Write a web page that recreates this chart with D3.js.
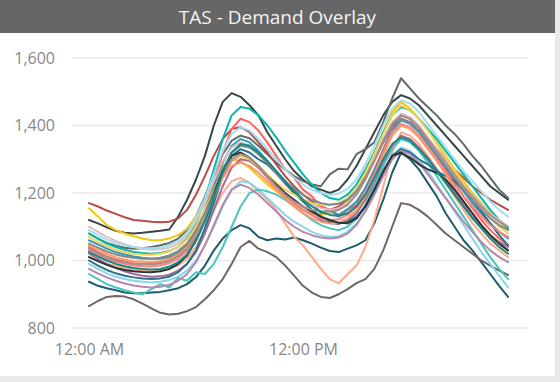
<!DOCTYPE html>
<html>
<head>
<meta charset="utf-8">
<script src="https://cdn.jsdelivr.net/npm/d3@7"></script>
<style>
  html, body { margin: 0; padding: 0; background: #e9e9e9; }
  svg { display: block; font-family: "Open Sans", "Segoe UI", sans-serif; }
</style>
</head>
<body>
<div id="chart"></div>
<script>
// ── Data: half-hourly demand (MW), one row per day ──
const hours = d3.range(48).map(i => i / 2);
const yTicks = [800, 1000, 1200, 1400, 1600];
const xTicks = [0, 12];
const xTickLabels = ["12:00 AM", "12:00 PM"];

const colors = [
  "#374649", "#5F6B6D", "#1B5C6E", "#6e6764", "#FDAB89", "#BB4A4A",
  "#F2C80F", "#01B8AA", "#FD625E", "#8AD4EB", "#A66999", "#3599B8",
  "#DFBFBF", "#4AC5BB", "#28738A", "#FB8281", "#F4D25A", "#7F898A",
  "#A4DDEE", "#FE9666", "#B687AC", "#293537", "#A78F8F", "#168980"
];

const day01 = [1120,1110,1098,1088,1082,1080,1082,1085,1088,1092,1130,1180,1240,1310,1400,1470,1496,1485,1460,1430,1380,1340,1300,1265,1240,1220,1210,1200,1210,1240,1280,1330,1380,1430,1470,1490,1480,1460,1430,1400,1370,1340,1310,1280,1250,1220,1200,1180];
const day02 = [1080,1065,1052,1044,1038,1035,1036,1040,1045,1052,1065,1090,1130,1190,1255,1315,1355,1370,1362,1340,1315,1290,1270,1250,1235,1225,1220,1255,1272,1270,1315,1330,1350,1410,1480,1540,1510,1480,1455,1430,1400,1375,1345,1310,1280,1245,1210,1185];
const day03 = [937,925,918,912,905,903,903,905,907,912,918,930,951,985,1030,1065,1090,1105,1095,1070,1060,1065,1062,1068,1060,1050,1038,1028,1025,1035,1045,1060,1110,1180,1260,1320,1300,1270,1230,1190,1140,1100,1060,1030,995,960,925,892];
const day04 = [865,880,892,895,893,885,872,858,845,840,842,850,862,885,912,945,990,1040,1058,1035,1025,1010,985,955,925,905,892,889,900,915,933,945,975,1030,1100,1170,1165,1150,1130,1105,1080,1060,1040,1020,1000,985,970,957];
const day05 = [1010,1000,990,985,978,972,970,968,970,975,985,1005,1040,1090,1150,1200,1235,1245,1230,1205,1180,1150,1110,1070,1045,1010,975,945,932,960,985,1040,1120,1220,1320,1380,1370,1345,1310,1270,1230,1190,1150,1110,1080,1050,1030,1010];
const day06 = [1170,1160,1148,1138,1128,1120,1118,1115,1113,1115,1125,1150,1195,1250,1310,1360,1390,1395,1380,1350,1320,1285,1250,1220,1195,1175,1160,1150,1160,1180,1210,1250,1300,1350,1400,1430,1420,1395,1360,1330,1300,1270,1245,1220,1200,1180,1165,1150];
const day07 = [1155,1130,1105,1090,1080,1072,1065,1060,1060,1065,1075,1095,1130,1180,1235,1280,1300,1295,1275,1250,1225,1205,1185,1165,1150,1140,1135,1140,1150,1175,1210,1260,1320,1380,1440,1470,1450,1420,1385,1350,1310,1270,1235,1200,1170,1140,1115,1095];
const day08 = [1080,1065,1050,1040,1032,1025,1022,1020,1022,1028,1040,1065,1110,1180,1270,1360,1430,1455,1450,1430,1400,1365,1325,1290,1255,1225,1200,1185,1180,1195,1225,1270,1320,1380,1430,1455,1445,1420,1390,1360,1325,1290,1255,1220,1185,1150,1120,1095];
const day09 = [1040,1025,1012,1003,997,992,990,990,993,1000,1015,1040,1085,1150,1230,1320,1390,1420,1410,1385,1350,1310,1270,1245,1210,1190,1160,1150,1130,1150,1165,1215,1270,1330,1390,1420,1410,1385,1350,1310,1270,1230,1190,1155,1120,1090,1065,1045];
const day10 = [990,975,962,952,945,940,937,935,937,942,952,970,1000,1045,1100,1160,1210,1235,1230,1210,1185,1160,1135,1115,1100,1085,1075,1070,1072,1085,1110,1150,1200,1260,1310,1335,1325,1300,1265,1225,1185,1145,1105,1065,1025,990,955,920];
const day11 = [1020,1005,990,978,968,960,955,952,953,958,970,990,1025,1080,1150,1220,1275,1300,1295,1275,1250,1220,1195,1170,1150,1135,1120,1110,1108,1118,1140,1180,1230,1290,1340,1370,1360,1335,1305,1270,1235,1200,1165,1130,1100,1075,1055,1040];
const day12 = [1060,1048,1035,1025,1018,1012,1008,1005,1005,1010,1022,1045,1090,1150,1220,1290,1340,1360,1350,1325,1295,1265,1235,1210,1180,1170,1140,1150,1135,1152,1175,1215,1265,1325,1385,1415,1405,1380,1345,1310,1275,1240,1205,1170,1140,1110,1085,1065];
const day13 = [1100,1085,1070,1058,1048,1040,1035,1032,1033,1038,1050,1075,1115,1170,1235,1295,1335,1350,1340,1315,1285,1255,1225,1200,1180,1165,1155,1150,1155,1170,1200,1245,1300,1360,1410,1435,1425,1400,1365,1330,1295,1260,1225,1195,1165,1140,1120,1100];
const day14 = [960,945,930,920,912,905,900,915,930,920,948,940,965,960,990,1040,1100,1160,1200,1210,1205,1195,1180,1160,1140,1120,1105,1095,1090,1100,1125,1165,1220,1280,1330,1360,1350,1325,1290,1250,1210,1170,1130,1090,1050,1010,975,945];
const day15 = [1000,985,972,962,955,950,947,945,947,952,965,990,1030,1095,1170,1250,1310,1330,1320,1300,1285,1260,1230,1200,1175,1150,1130,1115,1110,1115,1130,1160,1205,1260,1310,1330,1320,1300,1285,1265,1250,1235,1210,1180,1145,1110,1075,1045];
const day16 = [1030,1018,1005,996,990,985,983,982,985,992,1005,1028,1065,1120,1185,1250,1295,1310,1300,1275,1245,1215,1190,1170,1150,1135,1125,1120,1122,1135,1160,1200,1255,1320,1380,1405,1395,1370,1335,1300,1260,1225,1190,1160,1130,1105,1085,1070];
const day17 = [1070,1055,1042,1032,1025,1020,1018,1017,1020,1027,1040,1062,1100,1150,1210,1265,1300,1310,1300,1280,1255,1230,1210,1195,1180,1170,1165,1165,1170,1185,1215,1260,1315,1375,1430,1460,1445,1420,1385,1345,1305,1265,1225,1190,1155,1125,1100,1080];
const day18 = [1050,1038,1027,1018,1012,1008,1005,1005,1008,1015,1028,1050,1088,1140,1205,1270,1320,1340,1335,1315,1290,1260,1235,1212,1195,1180,1170,1165,1168,1180,1205,1245,1295,1350,1395,1420,1410,1385,1350,1315,1280,1245,1210,1180,1150,1125,1105,1090];
const day19 = [1090,1075,1062,1052,1045,1040,1037,1036,1038,1045,1058,1082,1125,1185,1255,1325,1375,1395,1385,1360,1330,1300,1270,1245,1225,1210,1200,1195,1198,1212,1240,1285,1340,1400,1450,1475,1465,1440,1405,1370,1335,1300,1265,1235,1205,1175,1150,1130];
const day20 = [1045,1032,1020,1010,1003,998,996,995,998,1005,1018,1040,1075,1125,1185,1245,1280,1290,1280,1260,1235,1210,1185,1160,1140,1125,1115,1110,1112,1125,1150,1190,1245,1310,1370,1400,1390,1365,1330,1295,1255,1215,1175,1140,1105,1075,1050,1030];
const day21 = [975,962,950,940,932,926,922,920,922,928,940,960,995,1045,1105,1165,1210,1225,1215,1195,1170,1145,1120,1100,1085,1075,1068,1065,1068,1080,1105,1145,1195,1250,1300,1325,1315,1290,1255,1220,1185,1150,1115,1085,1055,1030,1010,995];
const day22 = [1010,998,987,978,972,968,966,965,968,975,990,1015,1060,1120,1195,1265,1310,1320,1305,1280,1250,1225,1200,1180,1160,1145,1130,1120,1112,1110,1125,1160,1210,1265,1310,1320,1305,1285,1270,1260,1240,1210,1175,1140,1105,1075,1050,1030];
const day23 = [1035,1022,1010,1000,994,990,988,988,991,998,1012,1035,1072,1125,1190,1255,1300,1315,1305,1280,1250,1220,1195,1175,1160,1150,1145,1145,1150,1165,1195,1240,1295,1355,1405,1430,1420,1395,1360,1325,1290,1255,1220,1190,1160,1135,1115,1100];
const day24 = [1025,1012,1000,990,983,978,975,973,975,982,995,1018,1058,1115,1185,1260,1320,1345,1340,1320,1295,1265,1235,1205,1180,1160,1145,1135,1132,1140,1160,1195,1245,1300,1345,1365,1355,1330,1300,1265,1230,1195,1160,1125,1095,1065,1040,1020];

const days = [day01, day02, day03, day04, day05, day06, day07, day08, day09, day10, day11, day12,
              day13, day14, day15, day16, day17, day18, day19, day20, day21, day22, day23, day24];

// ── Layout ──
const W = 560, H = 382;
const cardW = 555, cardH = 376, titleH = 33;
const plot = { left: 72, right: 528, top: 58, bottom: 328 };

const svg = d3.select("#chart").append("svg")
  .attr("width", W).attr("height", H);

svg.append("rect")
  .attr("x", 0).attr("y", 0)
  .attr("width", cardW).attr("height", cardH)
  .attr("fill", "#fff");

// title bar
svg.append("rect")
  .attr("x", 0).attr("y", 0)
  .attr("width", cardW).attr("height", titleH)
  .attr("fill", "#666666");
svg.append("text")
  .attr("x", cardW / 2).attr("y", 24)
  .attr("text-anchor", "middle")
  .attr("fill", "#f4f4f4")
  .attr("font-size", "19px")
  .text("TAS - Demand Overlay");

// ── Scales ──
const x = d3.scaleLinear().domain([0, 24]).range([89, 517]);
const y = d3.scaleLinear().domain([800, 1600]).range([plot.bottom, plot.top]);

// gridlines
svg.append("g")
  .selectAll("line")
  .data(yTicks)
  .join("line")
  .attr("x1", plot.left).attr("x2", plot.right)
  .attr("y1", d => y(d)).attr("y2", d => y(d))
  .attr("stroke", "#eaeaea").attr("stroke-width", 1.5);

// y axis
const yAxis = svg.append("g")
  .attr("transform", "translate(55,0)")
  .call(d3.axisLeft(y).tickValues(yTicks).tickSize(0).tickPadding(0).tickFormat(d3.format(",")));
yAxis.select(".domain").remove();
yAxis.selectAll("text")
  .attr("fill", "#888").attr("font-size", "16px")
  .attr("font-family", "'Open Sans', sans-serif");

// x axis
const xAxis = svg.append("g")
  .attr("transform", `translate(0,${plot.bottom + 16})`)
  .call(d3.axisBottom(x).tickValues(xTicks).tickSize(0).tickPadding(0)
    .tickFormat((d, i) => xTickLabels[i]));
xAxis.select(".domain").remove();
xAxis.selectAll("text")
  .attr("fill", "#888").attr("font-size", "16px")
  .attr("font-family", "'Open Sans', sans-serif");

// ── Lines ──
const line = d3.line()
  .x((d, i) => x(hours[i]))
  .y(d => y(d));

svg.append("g")
  .selectAll("path")
  .data(days)
  .join("path")
  .attr("d", line)
  .attr("fill", "none")
  .attr("stroke", (d, i) => colors[i % colors.length])
  .attr("stroke-width", 2)
  .attr("stroke-linejoin", "round")
  .attr("stroke-linecap", "round");
</script>
</body>
</html>
